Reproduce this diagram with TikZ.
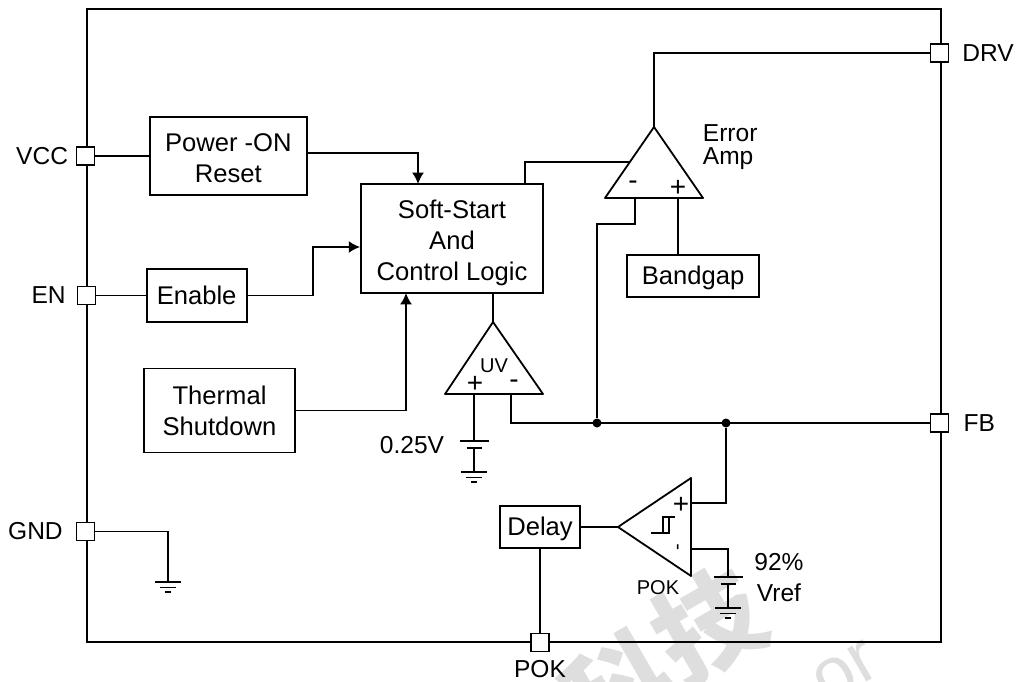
\documentclass[tikz,border=0pt]{standalone}
\usepackage{fontspec}
\setmainfont{Liberation Sans}
\newfontfamily\cjk{Noto Sans CJK SC}
\usetikzlibrary{arrows.meta, positioning}
\newcommand{\lowr}[1]{\rule{0pt}{#1}}

\begin{document}
\begin{tikzpicture}[x=0.75pt, y=-0.75pt, >={Latex[length=8.5pt,width=9pt]}, line width=1.35pt,
    txt/.style={inner sep=0pt, align=center, font=\fontsize{18.4}{23.25}\selectfont},
    small/.style={inner sep=0pt, align=center, font=\fontsize{15}{18}\selectfont},
    sign/.style={inner sep=0pt, font=\fontsize{21}{21}\selectfont},
    block/.style={draw, rectangle, txt, font=\fontsize{19.2}{23.25}\selectfont},
    pinbox/.style={draw, rectangle, fill=white, minimum size=13.5pt, inner sep=0pt},
    wmark/.style={inner sep=0pt, text=black!13, font=\cjk\bfseries\fontsize{80}{80}\selectfont},
    dot/.style={circle, fill=black, inner sep=0pt, minimum size=6.75pt},
    gnd/.pic={\draw (-13,0) -- (13,0) (-8,5.5) -- (8,5.5) (-3,10) -- (3,10);},
    batt/.pic={\draw (-14.5,0) -- (14.5,0) (-7.5,7) -- (7.5,7);}]

    \useasboundingbox (0,0) rectangle (1016,681);

    % Watermark
    \node (wmkb) [wmark, rotate=30] at (708,625) {技};
    \node (wmka) [wmark, rotate=30] at (618,690) {科};
    \node (wmkc) [wmark, rotate=30, font=\fontsize{54}{54}\selectfont] at (846,672) {or};

    \draw (87,9) rectangle (941,642);

    % Pins
    \node (vcc) [pinbox] at (85.5,156) {};
    \node (en) [pinbox] at (86.5,295.5) {};
    \node (gnd) [pinbox] at (85.5,531.5) {};
    \node (drv) [pinbox] at (939.5,53) {};
    \node (fb) [pinbox] at (939.5,423) {};
    \node (pok) [pinbox] at (540,642.5) {};
    \node (vcc-l) [txt, left=5pt of vcc] {VCC};
    \node (en-l) [txt, left=7.5pt of en] {EN};
    \node (gnd-l) [txt, left=9pt of gnd] {GND};
    \node (drv-l) [txt, right=9pt of drv] {DRV};
    \node (fb-l) [txt, right=10pt of fb] {FB};
    \node (pok-l) [txt, below=5pt of pok] {POK};

    % Blocks
    \node (reset) [block, minimum width=118pt, minimum height=59pt, right=40pt of vcc] {\lowr{17pt}Power -ON\\Reset};
    \node (enable) [block, minimum width=75pt, minimum height=40pt, right=37pt of en] {Enable};
    \node (thermal) [block, minimum width=113pt, minimum height=63pt] at (219.5,410.5) {Thermal\\Shutdown};
    \node (logic) [block, minimum width=136.5pt, minimum height=82pt] at (452,238.5) {\lowr{20pt}Soft-Start\\And\\Control Logic};
    \node (bandgap) [block, minimum width=99pt, minimum height=31.5pt] at (693,276) {\lowr{17pt}Bandgap};
    \node (delay) [block, minimum width=60pt, minimum height=31.5pt] at (540,527) {\lowr{16pt}Delay};

    % Amplifiers
    \coordinate (ea-top) at (654,127);
    \coordinate (uv-top) at (493,322);
    \coordinate (pk-tip) at (618,527);
    \draw[line join=round] (ea-top) -- (703,198) -- (605,198) -- cycle;
    \draw[line join=round] (uv-top) -- (543,394) -- (445,394) -- cycle;
    \draw[line join=round] (pk-tip) -- (691,478) -- (691,576) -- cycle;
    \draw (651,533) -- (669,533) -- (669,517) (663,533) -- (663,517) -- (675,517);

    \node (ea-m) [sign] at (633,185) {-};
    \node (ea-p) [sign] at (678,188.5) {+};
    \node (uv-p) [sign] at (475,384) {+};
    \node (uv-m) [sign] at (514,384) {-};
    \node (pk-p) [sign] at (681,505) {+};
    \node (pk-m) [sign, rotate=90, font=\fontsize{15}{15}\selectfont] at (680,547) {-};
    \node (uv-t) [small] at (494,366) {UV};
    \node (pk-t) [small] at (658,588) {POK};
    \node (ea-t) [txt, anchor=west, align=left] at (702,147) {Error\\[-6pt]Amp};
    \node (uv-v) [txt] at (412,445) {0.25V};
    \node (pk-v) [txt] at (779,578) {92\%\\Vref};

    % Terminals
    \coordinate (in-reset) at (418,184);
    \coordinate (in-thermal) at (406,293);
    \coordinate (bend-en) at (313,247);
    \coordinate (out-ea) at (630,162);
    \coordinate (in-logic) at (525,184);
    \coordinate (ea-in) at (635,198);
    \coordinate (bend-ea) at (597,224);
    \coordinate (ea-ref) at (678,198);
    \coordinate (uv-in) at (474,394);
    \coordinate (uv-fb) at (511,394);
    \coordinate (bat-a) at (474,441);
    \coordinate (bat-b) at (474,448);
    \coordinate (gnd-a) at (474,472);
    \coordinate (pk-in) at (691,503);
    \coordinate (pk-ref) at (691,549);
    \coordinate (bat-c) at (728,577);
    \coordinate (bat-d) at (728,584);
    \coordinate (gnd-b) at (728,608);
    \coordinate (gnd-c) at (168,582);
    \node (jn-a) [dot] at (597,423) {};
    \node (jn-b) [dot] at (726,423) {};

    % Links
    \draw (vcc) -- (reset);
    \draw (en) -- (enable);
    \draw (gnd) -| (gnd-c);
    \draw[->] ([yshift=2.5pt]reset.east) -| (in-reset);
    \draw[->] (enable.east) -| (bend-en) -- (bend-en -| logic.west);
    \draw[->] (thermal.east) -| (in-thermal);
    \draw (out-ea) -| (in-logic);
    \draw (ea-top) |- (drv);
    \draw (logic.south -| uv-top) -- (uv-top);
    \draw (ea-in) |- (bend-ea) -- (jn-a);
    \draw (ea-ref) -- (bandgap.north -| ea-ref);
    \draw (uv-fb) |- (fb);
    \draw (uv-in) -- (bat-a);
    \draw (bat-b) -- (gnd-a);
    \draw (pk-in) -| (jn-b);
    \draw (pk-ref) -| (bat-c);
    \draw (bat-d) -- (gnd-b);
    \draw (delay) -- (pk-tip);
    \draw (delay) -- (pok);

    % Supply symbols
    \pic at (gnd-c) {gnd};
    \pic at (bat-a) {batt};
    \pic at (gnd-a) {gnd};
    \pic at (bat-c) {batt};
    \pic at (gnd-b) {gnd};
\end{tikzpicture}
\end{document}
